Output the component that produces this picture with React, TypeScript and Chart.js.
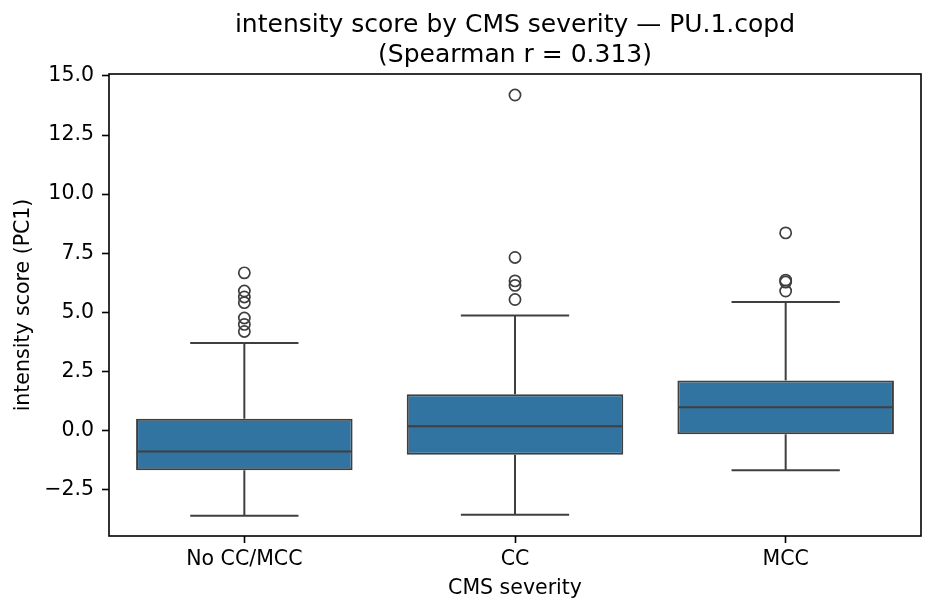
import { useEffect, useRef } from "react";
import { Chart, registerables } from "chart.js";

Chart.register(...registerables);

const CATEGORIES = ["No CC/MCC", "CC", "MCC"];
const Q1 = [-1.68, -1.02, -0.16];
const MEDIAN = [-0.89, 0.18, 0.99];
const Q3 = [0.5, 1.53, 2.12];
const WHISKER_LO = [-3.6, -3.56, -1.68];
const WHISKER_HI = [3.7, 4.87, 5.44];
const OUTLIERS_NO_CC = [6.67, 5.9, 5.65, 5.41, 4.76, 4.49, 4.19];
const OUTLIERS_CC = [14.19, 7.32, 6.33, 6.14, 5.54];
const OUTLIERS_MCC = [8.36, 6.36, 6.28, 5.9];
const Y_TICKS = [-2.5, 0, 2.5, 5, 7.5, 10, 12.5, 15];

const BOX_FILL = "#3274a1";
const EDGE = "#3f3f3f";
const FONT = "'DejaVu Sans', sans-serif";

const outlierPoints = [
  ...OUTLIERS_NO_CC.map((v) => ({ x: CATEGORIES[0], y: v })),
  ...OUTLIERS_CC.map((v) => ({ x: CATEGORIES[1], y: v })),
  ...OUTLIERS_MCC.map((v) => ({ x: CATEGORIES[2], y: v })),
];

// whiskers, caps, medians and the axes frame
const boxParts = {
  id: "boxParts",
  afterDatasetsDraw(chart: any) {
    const { ctx, chartArea } = chart;
    const x = chart.scales.x;
    const y = chart.scales.y;
    const meta = chart.getDatasetMeta(0);
    ctx.save();
    ctx.strokeStyle = EDGE;
    ctx.lineWidth = 2;
    const seg = (x1: number, y1: number, x2: number, y2: number) => {
      ctx.beginPath();
      ctx.moveTo(x1, y1);
      ctx.lineTo(x2, y2);
      ctx.stroke();
    };
    CATEGORIES.forEach((_, i) => {
      const cx = x.getPixelForValue(i);
      const half = meta.data[i].width / 2;
      const cap = half / 2;
      const hi = y.getPixelForValue(WHISKER_HI[i]);
      const lo = y.getPixelForValue(WHISKER_LO[i]);
      seg(cx, y.getPixelForValue(Q3[i]), cx, hi);
      seg(cx, y.getPixelForValue(Q1[i]), cx, lo);
      seg(cx - cap, hi, cx + cap, hi);
      seg(cx - cap, lo, cx + cap, lo);
      const m = y.getPixelForValue(MEDIAN[i]);
      seg(cx - half + 1, m, cx + half - 1, m);
    });
    ctx.strokeStyle = "#000";
    ctx.lineWidth = 1.6;
    ctx.strokeRect(chartArea.left, chartArea.top, chartArea.right - chartArea.left, chartArea.bottom - chartArea.top);
    ctx.restore();
  },
};

export default function App() {
  const canvasRef = useRef<HTMLCanvasElement>(null);

  useEffect(() => {
    if (!canvasRef.current) return;
    const chart = new Chart(canvasRef.current, {
      type: "bar",
      data: {
        labels: CATEGORIES,
        datasets: [
          {
            type: "bar",
            data: CATEGORIES.map((_, i) => [Q1[i], Q3[i]]),
            backgroundColor: BOX_FILL,
            borderColor: EDGE,
            borderWidth: 2,
            borderSkipped: false,
            categoryPercentage: 0.8,
            barPercentage: 1,
          } as any,
          {
            type: "scatter",
            data: outlierPoints as any,
            pointStyle: "circle",
            pointRadius: 5.6,
            pointBackgroundColor: "rgba(0,0,0,0)",
            pointBorderColor: EDGE,
            pointBorderWidth: 1.7,
          } as any,
        ],
      },
      options: {
        responsive: false,
        animation: false,
        layout: { padding: { left: 0, right: 16, top: 0, bottom: 0 } },
        plugins: {
          legend: { display: false },
          tooltip: { enabled: false },
          title: {
            display: true,
            fullSize: false,
            text: ["intensity score by CMS severity — PU.1.copd", "(Spearman r = 0.313)"],
            color: "#000",
            font: { family: FONT, size: 25, weight: "normal", lineHeight: 1.2 },
            padding: { top: 10, bottom: 4 },
          },
        },
        scales: {
          x: {
            type: "category",
            offset: true,
            border: { display: false },
            grid: {
              offset: false,
              drawOnChartArea: false,
              drawTicks: true,
              tickLength: 7,
              tickWidth: 1.6,
              tickColor: "#000",
            },
            ticks: { color: "#000", padding: 4, font: { family: FONT, size: 20.5 } },
            title: {
              display: true,
              text: "CMS severity",
              color: "#000",
              font: { family: FONT, size: 20.5, lineHeight: 1.2 },
              padding: { top: 0, bottom: 13.5 },
            },
            afterFit: (s: any) => {
              s.height = 78;
            },
          },
          y: {
            min: -4.46,
            max: 15.08,
            border: { display: false },
            grid: {
              drawOnChartArea: false,
              drawTicks: true,
              tickLength: 7,
              tickWidth: 1.6,
              tickColor: "#000",
            },
            ticks: {
              color: "#000",
              padding: 8,
              font: { family: FONT, size: 20.5 },
              callback: (v: any) => Number(v).toFixed(1).replace("-", "\u2212"),
            },
            afterBuildTicks: (s: any) => {
              s.ticks = Y_TICKS.map((v) => ({ value: v }));
            },
            title: {
              display: true,
              text: "intensity score (PC1)",
              color: "#000",
              font: { family: FONT, size: 20.5, lineHeight: 1.2 },
              padding: { top: 11.5, bottom: 0 },
            },
            afterFit: (s: any) => {
              s.width = 109;
            },
          },
        },
      },
      plugins: [boxParts],
    });
    return () => chart.destroy();
  }, []);

  return (
    <div style={{ position: "absolute", left: 0, top: 0, width: 937, height: 614, background: "#fff" }}>
      <canvas ref={canvasRef} width={937} height={614} style={{ display: "block" }} />
    </div>
  );
}
